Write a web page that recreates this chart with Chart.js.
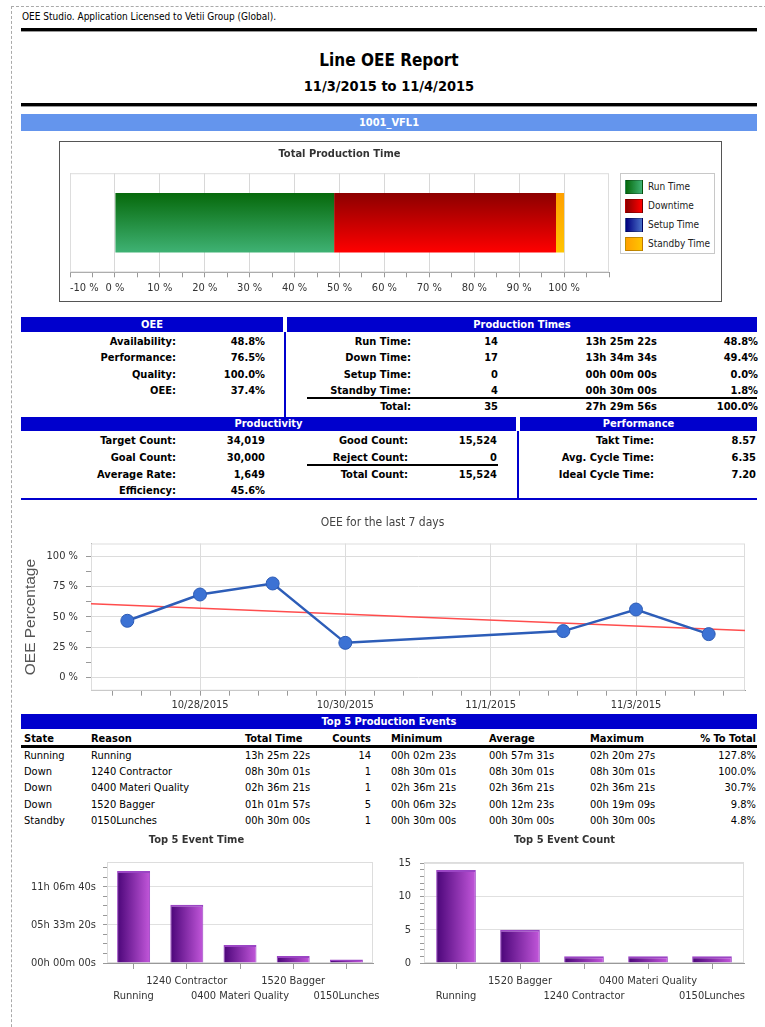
<!DOCTYPE html>
<html>
  <head>
    <title>Line OEE Report</title>
    <meta name="viewport" content="width=device-width, initial-scale=1.0" />
    <script src="https://cdn.jsdelivr.net/npm/chart.js"></script>
    <style>
      body {
        margin: 0;
        background: #fff;
      }
      #page {
        position: relative;
        width: 765px;
        height: 1027px;
        overflow: hidden;
        font-family: "DejaVu Sans Condensed", "Liberation Sans Narrow", sans-serif;
        color: #000;
      }
      .dash {
        position: absolute;
        left: 11px;
        top: 6px;
        width: 800px;
        height: 1100px;
        border-left: 1px dashed #aaa;
        border-top: 1px dashed #aaa;
      }
      .t {
        position: absolute;
        font-size: 11px;
        line-height: 14px;
        white-space: nowrap;
      }
      .b {
        font-weight: bold;
      }
      .rule {
        position: absolute;
        background: #000;
      }
      .hdr {
        position: absolute;
        background: #0000cd;
        color: #fff;
        font-weight: bold;
        font-size: 11px;
        text-align: center;
        line-height: 15px;
      }
      .vline {
        position: absolute;
        background: #0000cd;
      }
      .cbox {
        position: absolute;
      }
      #legend1 {
        position: absolute;
        left: 620px;
        top: 173px;
        width: 93px;
        height: 79px;
        border: 1px solid #c8c8c8;
        background: #fff;
      }
      .sw {
        position: absolute;
        left: 4px;
        width: 18px;
        height: 14px;
        box-sizing: border-box;
        border: 1px solid rgba(0, 0, 0, 0.25);
      }
      .lt {
        position: absolute;
        left: 27px;
        font-size: 10px;
        line-height: 12px;
        color: #222;
      }
    </style>
  </head>
  <body>
    <div id="page">
      <div class="dash"></div>
      <div class="t" style="left: 22px; top: 10px; font-size: 10px">OEE Studio. Application Licensed to Vetii Group (Global).</div>
      <div class="rule" style="left: 21px; top: 28px; width: 736px; height: 3px; border-bottom: 1px solid #999"></div>
      <div class="t b" style="left: 0; width: 778px; text-align: center; top: 50px; font-size: 17px; line-height: 20px">Line OEE Report</div>
      <div class="t b" style="left: 0; width: 778px; text-align: center; top: 77px; font-size: 14.5px; line-height: 18px">11/3/2015 to 11/4/2015</div>
      <div class="rule" style="left: 21px; top: 103px; width: 736px; height: 3px; border-bottom: 1px solid #999"></div>
      <div class="hdr" style="left: 21px; top: 114px; width: 736px; height: 17px; line-height: 17px; background: #6495ed">1001_VFL1</div>

      <div style="position: absolute; left: 59px; top: 141px; width: 661px; height: 159px; border: 1px solid #555"></div>
      <div class="cbox" style="left: 60px; top: 142px; width: 661px; height: 159px"><canvas id="shareChart"></canvas></div>
      <div id="legend1"></div>

      <div class="hdr" style="left: 21px; top: 317px; width: 262px">OEE</div>
      <div class="hdr" style="left: 287px; top: 317px; width: 470px">Production Times</div>
      <div class="vline" style="left: 284px; top: 332px; width: 2px; height: 85px"></div>
      <div class="rule" style="left: 307px; top: 397px; width: 450px; height: 2px"></div>
      <div class="hdr" style="left: 21px; top: 417px; width: 495px; height: 14px; line-height: 14px">Productivity</div>
      <div class="hdr" style="left: 520px; top: 417px; width: 237px; height: 14px; line-height: 14px">Performance</div>
      <div class="vline" style="left: 517px; top: 431px; width: 2px; height: 67px"></div>
      <div class="rule" style="left: 307px; top: 464px; width: 191px; height: 2px"></div>
      <div class="vline" style="left: 21px; top: 498px; width: 736px; height: 2px"></div>

      <div class="cbox" style="left: 20px; top: 505px; width: 740px; height: 207px"><canvas id="oeeChart"></canvas></div>

      <div class="hdr" style="left: 21px; top: 714px; width: 736px">Top 5 Production Events</div>
      <div class="rule" style="left: 21px; top: 745px; width: 736px; height: 3px"></div>

      <div class="cbox" style="left: 20px; top: 830px; width: 368px; height: 192px"><canvas id="timeChart"></canvas></div>
      <div class="cbox" style="left: 385px; top: 830px; width: 376px; height: 192px"><canvas id="countChart"></canvas></div>
    </div>

    <script>
      // --- chart data ---
      const shareNames = ["Run Time", "Downtime", "Setup Time", "Standby Time"];
      const shareValues = [48.8, 49.4, 0.0, 1.8];
      const pctTicks = [-10, 0, 10, 20, 30, 40, 50, 60, 70, 80, 90, 100];

      const oeeDays = ["10/27/2015", "10/28/2015", "10/29/2015", "10/30/2015", "11/2/2015", "11/3/2015", "11/4/2015"];
      const oeeValues = [46.7, 68.4, 77.5, 28.5, 38.2, 56.0, 35.7];
      const trendOee = [60.7, 38.7]; // trend line at left / right edge
      const dayTicks = ["10/28/2015", "10/30/2015", "11/1/2015", "11/3/2015"];
      const oeePctTicks = [0, 25, 50, 75, 100];

      const timeReasons = ["Running", "1240 Contractor", "0400 Materi Quality", "1520 Bagger", "0150Lunches"];
      const timeSeconds = [48322, 30601, 9381, 3717, 1800];
      const timeTicks = [0, 20000, 40000];

      const countReasons = ["Running", "1520 Bagger", "1240 Contractor", "0400 Materi Quality", "0150Lunches"];
      const countValues = [14, 5, 1, 1, 1];
      const countTicks = [0, 5, 10, 15];

      // colours
      const shareTop = ["#06690b", "#8c0000", "#000080", "#ffa000"];
      const shareBottom = ["#3fb274", "#ff0000", "#4a70c8", "#ffc400"];

      // --- tables (plain text) ---
      const page = document.getElementById("page");
      function put(text, x, y, align, bold) {
        const d = document.createElement("div");
        d.className = "t" + (bold ? " b" : "");
        d.textContent = text;
        d.style.top = y - 7 + "px";
        if (align === "r") d.style.right = 765 - x + "px";
        else d.style.left = x + "px";
        page.appendChild(d);
      }

      const oeeRows = [
        ["Availability:", "48.8%"],
        ["Performance:", "76.5%"],
        ["Quality:", "100.0%"],
        ["OEE:", "37.4%"],
      ];
      const timeRows = [
        ["Run Time:", "14", "13h 25m 22s", "48.8%"],
        ["Down Time:", "17", "13h 34m 34s", "49.4%"],
        ["Setup Time:", "0", "00h 00m 00s", "0.0%"],
        ["Standby Time:", "4", "00h 30m 00s", "1.8%"],
        ["Total:", "35", "27h 29m 56s", "100.0%"],
      ];
      const rowY1 = [341.5, 358, 374.5, 391, 407];
      oeeRows.forEach((r, i) => {
        put(r[0], 176, rowY1[i], "r", true);
        put(r[1], 265, rowY1[i], "r", true);
      });
      timeRows.forEach((r, i) => {
        put(r[0], 411, rowY1[i], "r", true);
        put(r[1], 498, rowY1[i], "r", true);
        put(r[2], 657, rowY1[i], "r", true);
        put(r[3], 758, rowY1[i], "r", true);
      });

      const rowY2 = [441, 457.5, 474.5, 491];
      [
        ["Target Count:", "34,019"],
        ["Goal Count:", "30,000"],
        ["Average Rate:", "1,649"],
        ["Efficiency:", "45.6%"],
      ].forEach((r, i) => {
        put(r[0], 176, rowY2[i], "r", true);
        put(r[1], 265, rowY2[i], "r", true);
      });
      [
        ["Good Count:", "15,524"],
        ["Reject Count:", "0"],
        ["Total Count:", "15,524"],
      ].forEach((r, i) => {
        put(r[0], 408, rowY2[i], "r", true);
        put(r[1], 497, rowY2[i], "r", true);
      });
      [
        ["Takt Time:", "8.57"],
        ["Avg. Cycle Time:", "6.35"],
        ["Ideal Cycle Time:", "7.20"],
      ].forEach((r, i) => {
        put(r[0], 654, rowY2[i], "r", true);
        put(r[1], 756, rowY2[i], "r", true);
      });

      // events table: [x, align] per column
      const evCols = [[24, "l"], [91, "l"], [245, "l"], [371, "r"], [391, "l"], [489, "l"], [590, "l"], [756, "r"]];
      const evHead = ["State", "Reason", "Total Time", "Counts", "Minimum", "Average", "Maximum", "% To Total"];
      const evRows = [
        ["Running", "Running", "13h 25m 22s", "14", "00h 02m 23s", "00h 57m 31s", "02h 20m 27s", "127.8%"],
        ["Down", "1240 Contractor", "08h 30m 01s", "1", "08h 30m 01s", "08h 30m 01s", "08h 30m 01s", "100.0%"],
        ["Down", "0400 Materi Quality", "02h 36m 21s", "1", "02h 36m 21s", "02h 36m 21s", "02h 36m 21s", "30.7%"],
        ["Down", "1520 Bagger", "01h 01m 57s", "5", "00h 06m 32s", "00h 12m 23s", "00h 19m 09s", "9.8%"],
        ["Standby", "0150Lunches", "00h 30m 00s", "1", "00h 30m 00s", "00h 30m 00s", "00h 30m 00s", "4.8%"],
      ];
      evHead.forEach((h, c) => put(h, evCols[c][0], 738.5, evCols[c][1], true));
      evRows.forEach((r, i) => {
        r.forEach((v, c) => put(v, evCols[c][0], 755.5 + i * 16.4, evCols[c][1], false));
      });

      // legend for the production time bar
      const leg = document.getElementById("legend1");
      shareNames.forEach((n, i) => {
        const cy = 12.5 + i * 19;
        const sw = document.createElement("div");
        sw.className = "sw";
        sw.style.top = cy - 7 + "px";
        sw.style.background = `linear-gradient(to right, ${shareTop[i]}, ${shareBottom[i]})`;
        const lt = document.createElement("div");
        lt.className = "lt";
        lt.style.top = cy - 6 + "px";
        lt.textContent = n;
        leg.appendChild(sw);
        leg.appendChild(lt);
      });

      // --- charts ---
      const FONT = '"DejaVu Sans Condensed", "Liberation Sans Narrow", sans-serif';
      Chart.defaults.font.family = FONT;
      Chart.defaults.font.size = 11;
      Chart.defaults.color = "#333";
      Chart.defaults.animation = false;
      Chart.defaults.plugins.tooltip.enabled = false;
      Chart.defaults.plugins.legend.display = false;

      // light frame round the plot area
      Chart.register({
        id: "frame",
        beforeDatasetsDraw(chart, args, opts) {
          const a = chart.chartArea;
          const c = chart.ctx;
          c.save();
          c.strokeStyle = opts.color || "#ddd";
          c.lineWidth = 1;
          c.strokeRect(a.left + 0.5, a.top + 0.5, a.width - 1, a.height - 1);
          c.restore();
        },
      });

      const near = (list, v) => list.some((m) => Math.abs(m - v) < 1e-6);

      // 1. Total Production Time
      function vGrad(c, i) {
        const ch = c.chart;
        const y = ch.scales.y;
        if (!ch.chartArea || !y) return shareBottom[i];
        const mid = y.getPixelForValue(0);
        const half = (y.height * 0.6) / 2;
        const g = ch.ctx.createLinearGradient(0, mid - half, 0, mid + half);
        g.addColorStop(0, shareTop[i]);
        g.addColorStop(1, shareBottom[i]);
        return g;
      }

      new Chart(document.getElementById("shareChart"), {
        type: "bar",
        data: {
          labels: [""],
          datasets: shareNames.map((n, i) => ({
            label: n,
            data: [shareValues[i]],
            backgroundColor: (c) => vGrad(c, i),
            borderWidth: 0,
            barPercentage: 0.6,
            categoryPercentage: 1,
          })),
        },
        options: {
          indexAxis: "y",
          responsive: true,
          maintainAspectRatio: false,
          layout: { padding: { left: 10, right: 112, top: 0, bottom: 0 } },
          scales: {
            x: {
              type: "linear",
              stacked: true,
              min: -10,
              max: 110,
              afterBuildTicks: (s) => {
                s.ticks = [];
                for (let v = -10; v <= 110; v += 5) s.ticks.push({ value: v });
              },
              afterFit: (s) => {
                s.height = 28.7;
                s.paddingLeft = 0;
                s.paddingRight = 0;
              },
              ticks: {
                autoSkip: false,
                maxRotation: 0,
                align: "inner",
                padding: 4,
                callback: (v) => (near(pctTicks, v) ? v + " %" : ""),
              },
              grid: {
                color: (c) => (c.tick && near(pctTicks, c.tick.value) ? "#d8d8d8" : "transparent"),
                tickColor: "#999",
                tickLength: 5,
              },
              border: { color: "#999" },
            },
            y: { stacked: true, display: false },
          },
          plugins: {
            title: {
              display: true,
              text: "Total Production Time",
              font: { size: 11, weight: "bold" },
              color: "#333",
              padding: { top: 6, bottom: 12 },
            },
            frame: { color: "#ddd" },
          },
        },
      });

      // 2. OEE for the last 7 days
      function dayNum(s) {
        const [m, d, y] = s.split("/").map(Number);
        return Date.UTC(y, m - 1, d) / 864e5;
      }
      const day0 = dayNum(oeeDays[0]);
      const xOf = (s) => dayNum(s) - day0;
      const xMin = xOf(oeeDays[0]) - 0.5;
      const xMax = xOf(oeeDays[oeeDays.length - 1]) + 0.5;
      const majorX = dayTicks.map(xOf);

      new Chart(document.getElementById("oeeChart"), {
        type: "line",
        data: {
          datasets: [
            {
              label: "OEE",
              data: oeeDays.map((d, i) => ({ x: xOf(d), y: oeeValues[i] })),
              borderColor: "#2d5db8",
              borderWidth: 2.5,
              pointRadius: 6.5,
              pointBackgroundColor: "#3c72d4",
              pointBorderColor: "#2c5bb5",
              pointBorderWidth: 1,
              tension: 0,
            },
            {
              label: "Trend",
              data: [
                { x: xMin, y: trendOee[0] },
                { x: xMax, y: trendOee[1] },
              ],
              borderColor: "#ff4d4d",
              borderWidth: 1.5,
              pointRadius: 0,
            },
          ],
        },
        options: {
          responsive: true,
          maintainAspectRatio: false,
          layout: { padding: { left: 0, right: 15, top: 0, bottom: 0 } },
          scales: {
            x: {
              type: "linear",
              min: xMin,
              max: xMax,
              afterBuildTicks: (s) => {
                const step = 0.4;
                const ticks = [];
                for (let v = majorX[0]; v >= xMin; v -= step) ticks.unshift({ value: Math.round(v * 100) / 100 });
                for (let v = majorX[0] + step; v <= xMax; v += step) ticks.push({ value: Math.round(v * 100) / 100 });
                s.ticks = ticks;
              },
              afterFit: (s) => {
                s.height = 21.3;
                s.paddingLeft = 0;
                s.paddingRight = 0;
              },
              ticks: {
                autoSkip: false,
                maxRotation: 0,
                padding: 2.5,
                callback: (v) => {
                  const k = majorX.findIndex((m) => Math.abs(m - v) < 1e-6);
                  return k >= 0 ? dayTicks[k] : "";
                },
              },
              grid: {
                color: (c) => (c.tick && near(majorX, c.tick.value) ? "#dcdcdc" : "transparent"),
                tickColor: "#999",
                tickLength: 5,
              },
              border: { color: "#999" },
            },
            y: {
              min: -11,
              max: 110.5,
              afterBuildTicks: (s) => {
                s.ticks = [];
                for (let v = -12.5; v <= 110.5; v += 12.5) {
                  if (v >= -11) s.ticks.push({ value: v });
                }
              },
              afterFit: (s) => {
                s.width = 71;
                s.paddingTop = 0;
                s.paddingBottom = 0;
              },
              ticks: {
                autoSkip: false,
                padding: 8,
                callback: (v) => (near(oeePctTicks, v) ? v + " %" : ""),
              },
              grid: {
                color: (c) => (c.tick && near(oeePctTicks, c.tick.value) ? "#dcdcdc" : "transparent"),
                tickColor: "#999",
                tickLength: 5,
              },
              border: { color: "#999" },
              title: {
                display: true,
                text: "OEE Percentage",
                font: { family: '"Liberation Sans", Arial, sans-serif', size: 15.5 },
                color: "#555",
                padding: { top: 1, bottom: 0 },
              },
            },
          },
          plugins: {
            title: {
              display: true,
              text: "OEE for the last 7 days",
              font: { size: 12, weight: "normal" },
              color: "#444",
              padding: { top: 10.5, bottom: 13.6 },
            },
            frame: { color: "#ddd" },
          },
        },
      });

      // 3/4. Top 5 event bars
      const BAR_PCT = 0.62;
      function purple(c) {
        const ch = c.chart;
        const x = ch.scales.x;
        if (!ch.chartArea || !x || c.dataIndex === undefined) return "#7a2aa8";
        const n = ch.data.labels.length;
        const cx = x.getPixelForValue(c.dataIndex);
        const half = ((x.width / n) * BAR_PCT) / 2;
        const g = ch.ctx.createLinearGradient(cx - half, 0, cx + half, 0);
        g.addColorStop(0, "#4b0579");
        g.addColorStop(1, "#c257da");
        return g;
      }

      function hms(sec) {
        const p = (n) => String(n).padStart(2, "0");
        return `${p(Math.floor(sec / 3600))}h ${p(Math.floor((sec % 3600) / 60))}m ${p(sec % 60)}s`;
      }

      function eventBars(id, title, labels, values, majors, minorStep, max, fmt, yWidth, yPad, padRight) {
        return new Chart(document.getElementById(id), {
          type: "bar",
          data: {
            labels: labels,
            datasets: [
              {
                data: values,
                backgroundColor: purple,
                borderColor: "#9b45c4",
                borderWidth: { top: 2, left: 1, right: 1, bottom: 0 },
                barPercentage: BAR_PCT,
                categoryPercentage: 1,
              },
            ],
          },
          options: {
            responsive: true,
            maintainAspectRatio: false,
            layout: { padding: { left: 0, right: padRight, top: 0, bottom: 0 } },
            scales: {
              x: {
                afterFit: (s) => {
                  s.height = 59;
                  s.paddingLeft = 0;
                  s.paddingRight = 0;
                },
                ticks: {
                  autoSkip: false,
                  maxRotation: 0,
                  minRotation: 0,
                  padding: 5,
                  font: { size: 11, lineHeight: 1.35 },
                  callback: (v, i) => (i % 2 ? [labels[i], ""] : ["", labels[i]]),
                },
                grid: { offset: false, drawOnChartArea: false, tickColor: "#999", tickLength: 6 },
                border: { color: "#999" },
              },
              y: {
                min: 0,
                max: max,
                afterBuildTicks: (s) => {
                  s.ticks = [];
                  for (let v = 0; v <= max; v += minorStep) s.ticks.push({ value: v });
                },
                afterFit: (s) => {
                  s.width = yWidth;
                  s.paddingTop = 0;
                  s.paddingBottom = 0;
                },
                ticks: {
                  autoSkip: false,
                  padding: yPad,
                  callback: (v) => (near(majors, v) ? fmt(v) : ""),
                },
                grid: {
                  color: (c) => (c.tick && near(majors, c.tick.value) && c.tick.value > 0 ? "#e0e0e0" : "transparent"),
                  tickColor: "#999",
                  tickLength: 4,
                },
                border: { color: "#999" },
              },
            },
            plugins: {
              title: {
                display: true,
                text: title,
                font: { size: 11, weight: "bold" },
                color: "#333",
                padding: { top: 4, bottom: 14.8 },
              },
              frame: { color: "#ddd" },
            },
          },
        });
      }

      eventBars("timeChart", "Top 5 Event Time", timeReasons, timeSeconds, timeTicks, 5000, 53000, hms, 87, 7, 15);
      eventBars("countChart", "Top 5 Event Count", countReasons, countValues, countTicks, 1, 15.2, (v) => String(v), 39, 9, 17);
    </script>
  </body>
</html>
